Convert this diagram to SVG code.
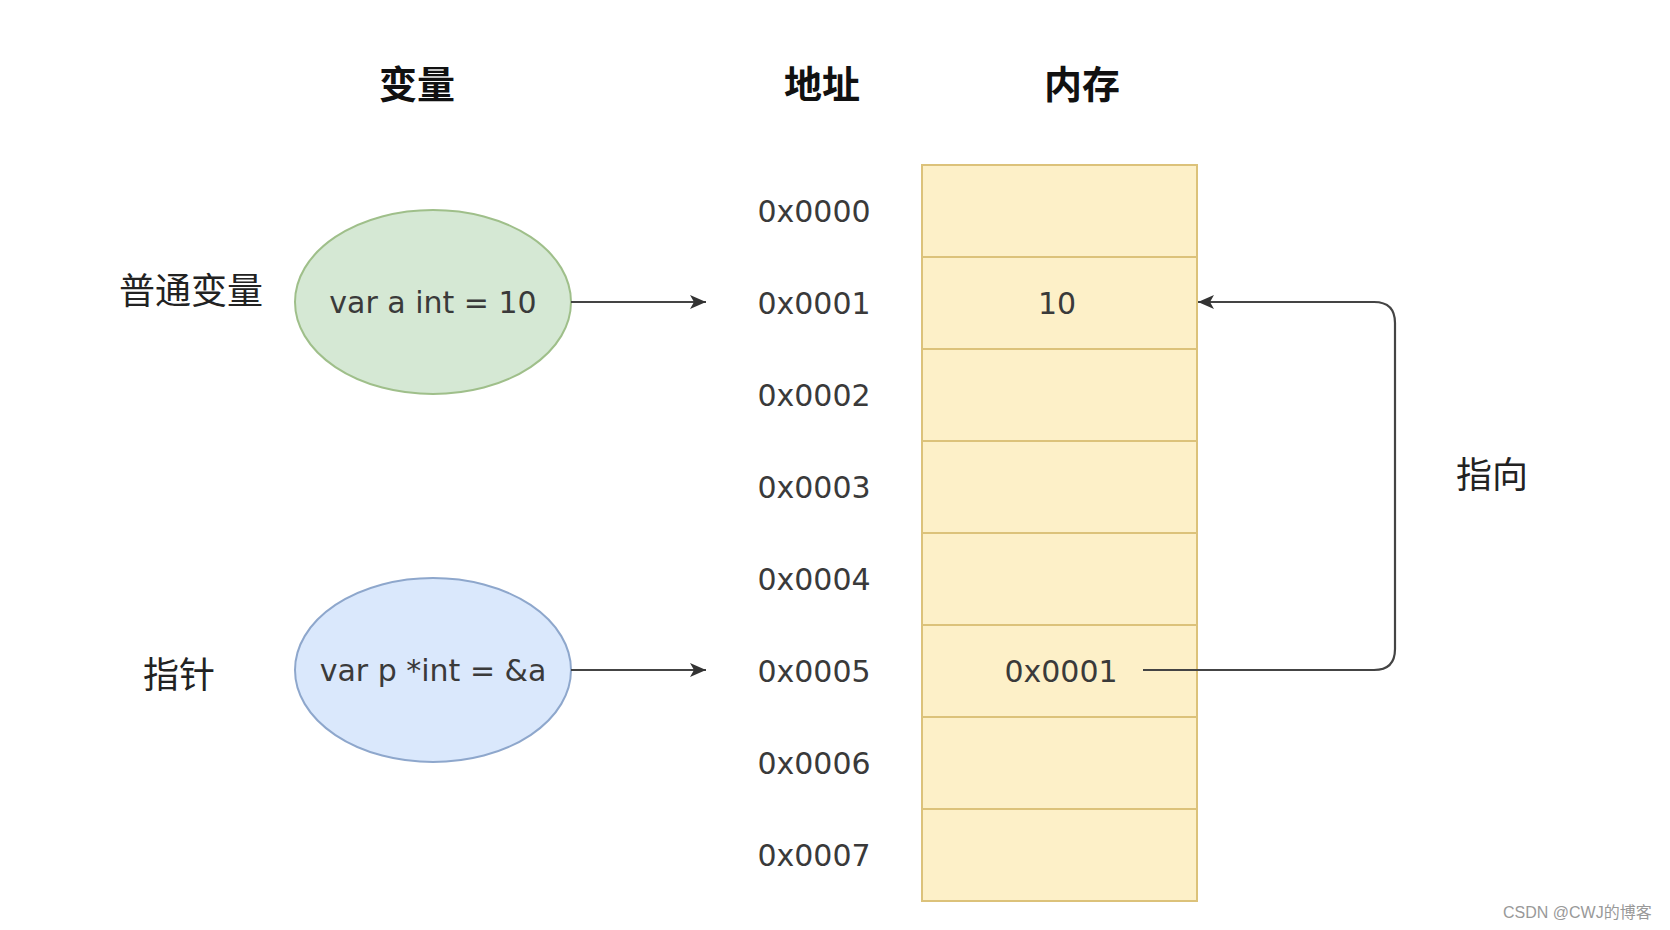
<svg xmlns="http://www.w3.org/2000/svg" width="1670" height="930" viewBox="0 0 1670 930">
<style>
.hdr{font-family:"Liberation Sans","Noto Sans CJK SC",sans-serif;font-size:38px;font-weight:bold;fill:#111;text-anchor:middle;dominant-baseline:central}
.lbl{font-family:"Liberation Sans","Noto Sans CJK SC",sans-serif;font-size:36px;fill:#222;text-anchor:middle;dominant-baseline:central}
.t{font-family:"DejaVu Sans","Noto Sans CJK SC",sans-serif;font-size:30px;fill:#3a3a3a;text-anchor:middle;dominant-baseline:central}
.cell{fill:#fdf0c8;stroke:#dcc27a;stroke-width:2}
.conn{fill:none;stroke:#444;stroke-width:2.2}
.wm{font-family:"Liberation Sans","Noto Sans CJK SC",sans-serif;font-size:16px;fill:#999;dominant-baseline:central}
</style>
<defs>
<marker id="arr" viewBox="0 0 16 14" refX="16" refY="7" markerWidth="16" markerHeight="14" markerUnits="userSpaceOnUse" orient="auto">
<path d="M0,0 L16,7 L0,14 L4,7 Z" fill="#333"/>
</marker>
</defs>
<rect width="1670" height="930" fill="#fff"/>
<g id="headers">
<text class="hdr" x="417" y="85">变量</text>
<text class="hdr" x="822" y="85">地址</text>
<text class="hdr" x="1082" y="85">内存</text>
</g>
<g id="labels">
<text class="lbl" x="191" y="291">普通变量</text>
<text class="lbl" x="179" y="675">指针</text>
<text class="lbl" x="1492" y="475">指向</text>
</g>
<g id="var-a">
<ellipse cx="433" cy="302" rx="138" ry="92" fill="#d5e8d4" stroke="#9fbf8a" stroke-width="2"/>
<text class="t" x="433" y="302">var a int = 10</text>
</g>
<g id="var-p">
<ellipse cx="433" cy="670" rx="138" ry="92" fill="#dae8fc" stroke="#8ea7cc" stroke-width="2"/>
<text class="t" x="433" y="670">var p *int = &amp;a</text>
</g>
<g id="addresses">
<text class="t" x="814" y="211">0x0000</text>
<text class="t" x="814" y="303">0x0001</text>
<text class="t" x="814" y="395">0x0002</text>
<text class="t" x="814" y="487">0x0003</text>
<text class="t" x="814" y="579">0x0004</text>
<text class="t" x="814" y="671">0x0005</text>
<text class="t" x="814" y="763">0x0006</text>
<text class="t" x="814" y="855">0x0007</text>
</g>
<g id="memory">
<rect class="cell" x="922" y="165" width="275" height="92"/>
<rect class="cell" x="922" y="257" width="275" height="92"/>
<rect class="cell" x="922" y="349" width="275" height="92"/>
<rect class="cell" x="922" y="441" width="275" height="92"/>
<rect class="cell" x="922" y="533" width="275" height="92"/>
<rect class="cell" x="922" y="625" width="275" height="92"/>
<rect class="cell" x="922" y="717" width="275" height="92"/>
<rect class="cell" x="922" y="809" width="275" height="92"/>
<text class="t" x="1057" y="303">10</text>
<text class="t" x="1061" y="671">0x0001</text>
</g>
<g id="connectors">
<line class="conn" x1="571" y1="302" x2="706" y2="302" marker-end="url(#arr)"/>
<line class="conn" x1="571" y1="670" x2="706" y2="670" marker-end="url(#arr)"/>
<path class="conn" d="M1143,670 H1374 Q1395,670 1395,649 V323 Q1395,302 1374,302 H1198" marker-end="url(#arr)"/>
</g>
<text class="wm" x="1503" y="912">CSDN @CWJ的博客</text>
</svg>
